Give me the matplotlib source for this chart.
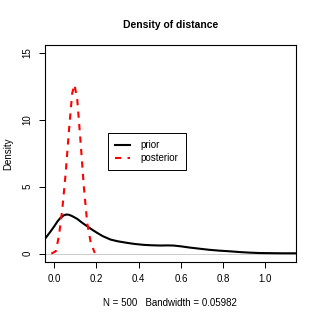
import matplotlib
matplotlib.use("Agg")
import matplotlib.pyplot as plt

plt.rcParams['font.family'] = ['Liberation Sans', 'DejaVu Sans']

# prior density
prior_x = [-0.044, -0.02, 0.0, 0.015, 0.03, 0.045, 0.058, 0.07, 0.085, 0.109, 0.13, 0.156,
           0.18, 0.203, 0.23, 0.266, 0.30, 0.345, 0.38, 0.424, 0.46, 0.503, 0.535, 0.565,
           0.60, 0.641, 0.69, 0.735, 0.78, 0.83, 0.88, 0.924, 0.97, 1.019, 1.08, 1.144]
prior_y = [1.1, 1.6, 2.04, 2.4, 2.68, 2.86, 2.92, 2.9, 2.8, 2.59, 2.33, 2.04,
           1.78, 1.55, 1.3, 1.05, 0.92, 0.8, 0.72, 0.65, 0.62, 0.6, 0.61, 0.6,
           0.54, 0.45, 0.36, 0.28, 0.22, 0.17, 0.11, 0.07, 0.04, 0.03, 0.02, 0.02]

# posterior density
post_x = [-0.014, 0.007, 0.022, 0.038, 0.054, 0.07, 0.085, 0.096, 0.109, 0.125,
          0.14, 0.156, 0.173, 0.192]
post_y = [0.0, 0.17, 1.3, 3.3, 6.0, 9.27, 12.0, 12.63, 11.5, 8.27,
          5.03, 2.29, 0.8, 0.05]

x_ticks = [0.0, 0.2, 0.4, 0.6, 0.8, 1.0]
y_ticks = [0, 5, 10, 15]

fig = plt.figure(figsize=(3.19, 3.19), dpi=100)
ax = fig.add_axes([0.141, 0.180, 0.786, 0.679])

ax.axhline(0, color='#cccccc', lw=0.7, zorder=1)
ax.plot(prior_x, prior_y, color='black', lw=1.5, label='prior', zorder=3)
ax.plot(post_x, post_y, color='red', lw=1.5, ls=(0, (3, 3)), label='posterior', zorder=3)

ax.set_xlim(-0.044, 1.144)
ax.set_ylim(-0.6, 15.6)
ax.set_xticks(x_ticks)
ax.set_xticklabels(['%.1f' % v for v in x_ticks])
ax.set_yticks(y_ticks)
ax.set_yticklabels([str(v) for v in y_ticks], rotation=90, va='center')
ax.tick_params(labelsize=7, length=4, width=0.7, pad=5, colors='black')
for s in ax.spines.values():
    s.set_linewidth(0.8)

ax.set_title('Density of distance', fontsize=7.5, fontweight='bold', pad=12)
ax.set_xlabel('N = 500   Bandwidth = 0.05982', fontsize=7, labelpad=10)
ax.set_ylabel('Density', fontsize=7, labelpad=7)

leg = ax.legend(loc='upper left', bbox_to_anchor=(0.2525, 0.5925), borderaxespad=0,
                fancybox=False, edgecolor='black', framealpha=1, fontsize=7,
                handlelength=1.55, handletextpad=1.1, borderpad=0.7, labelspacing=0.3)
leg.get_frame().set_linewidth(0.7)

fig.savefig('out.png', dpi=100)
